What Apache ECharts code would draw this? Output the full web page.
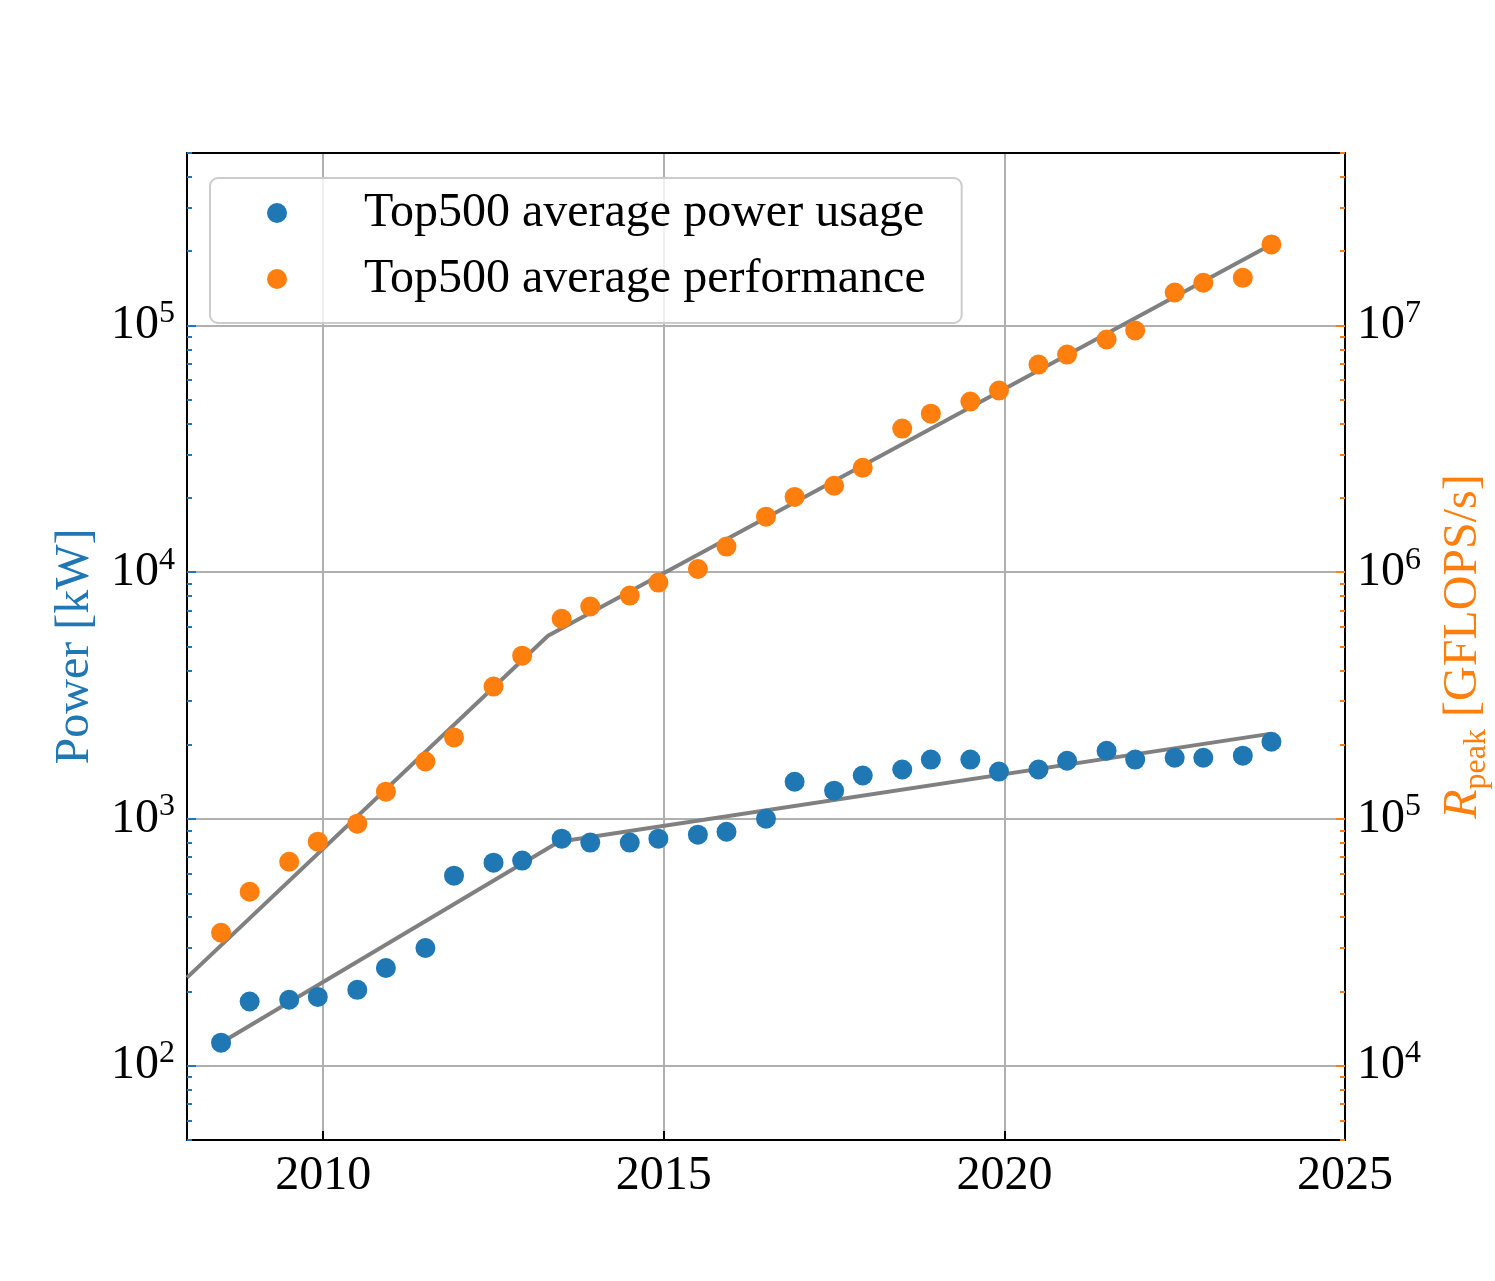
<!DOCTYPE html>
<html><head><meta charset="utf-8">
<script src="https://cdn.jsdelivr.net/npm/echarts@6/dist/echarts.min.js"></script>
<style>html,body{margin:0;padding:0;background:#fff}#c{width:1495px;height:1281px}</style>
</head><body><div id="c"></div>
<script>
// ---- data ----
const dates = [2008.5,2008.92,2009.5,2009.92,2010.5,2010.92,2011.5,2011.92,2012.5,2012.92,
  2013.5,2013.92,2014.5,2014.92,2015.5,2015.92,2016.5,2016.92,2017.5,2017.92,
  2018.5,2018.92,2019.5,2019.92,2020.5,2020.92,2021.5,2021.92,2022.5,2022.92,2023.5,2023.92];
const power = [124,182,185,190,203,249,300,589,665,678,832,802,802,832,864,888,1002,1415,1302,1500,
  1586,1740,1740,1556,1586,1722,1891,1740,1771,1771,1805,2055];
const perf = [34600,50700,67100,80900,95700,129000,171000,214000,344000,459000,648000,726000,804000,908000,
  1030000,1270000,1680000,2020000,2240000,2650000,3820000,4390000,4920000,5450000,6940000,7620000,
  8770000,9540000,13600000,14900000,15600000,21300000];
const powerFit = [[2008.5,124],[2013.46,809],[2023.92,2218]];
const perfFit = [[2008.0,22750],[2013.30,553000],[2023.92,21300000]];
const xTicks = [2010,2015,2020];
const xLabels = [2010,2015,2020,2025];
const leftMajor = [100,1000,10000,100000];
const leftMinor = [50,60,70,80,90,200,300,400,500,600,700,800,900,2000,3000,4000,5000,6000,7000,8000,9000,
  20000,30000,40000,50000,60000,70000,80000,90000,200000,300000,400000,500000];
const rightMajor = [10000,100000,1000000,10000000];
const rightMinor = [5000,6000,7000,8000,9000,20000,30000,40000,50000,60000,70000,80000,90000,
  200000,300000,400000,500000,600000,700000,800000,900000,2000000,3000000,4000000,5000000,6000000,
  7000000,8000000,9000000,20000000,30000000,40000000,50000000];
const legendNames = ['Top500 average power usage','Top500 average performance'];

const BLUE = '#1f77b4', ORANGE = '#ff7f0e', GRID = '#b0b0b0';
const FONT = "'Liberation Serif','DejaVu Serif',serif";
const FS = 48;

const chart = echarts.init(document.getElementById('c'), null, {renderer:'canvas'});
const expLabel = v => '{b|10}{s|' + Math.round(Math.log10(v)) + '}';
const richTick = {
  b:{fontSize:FS, fontFamily:FONT, color:'#000', lineHeight:56},
  s:{fontSize:32, fontFamily:FONT, color:'#000', lineHeight:30, verticalAlign:'top'}
};
function majorY(pos, min, max, tickColor, major, name, nameColor, nameRich){
  return {
    type:'log', logBase:10, position:pos, min:min, max:max,
    axisLine:{show:true, lineStyle:{color:'#000', width:2}},
    axisTick:{show:true, inside:true, length:9, lineStyle:{color:tickColor, width:2}, customValues:major},
    axisLabel:{show:true, margin:12, customValues:major, formatter:expLabel, rich:richTick},
    splitLine:{show:pos==='left', lineStyle:{color:GRID, width:2}},
    minorTick:{show:false}, minorSplitLine:{show:false},
    name:name, nameLocation:'middle', nameRotate:90, nameGap:88,
    nameTextStyle:{color:nameColor, fontFamily:FONT, fontSize:FS, rich:nameRich}
  };
}
function minorY(pos, min, max, tickColor, minor){
  return {
    type:'log', logBase:10, position:pos, min:min, max:max,
    axisLine:{show:false},
    axisTick:{show:true, inside:true, length:5, lineStyle:{color:tickColor, width:2}, customValues:minor},
    axisLabel:{show:false}, splitLine:{show:false}
  };
}
const option = {
  backgroundColor:'#fff',
  animation:false,
  grid:{left:187, right:150, top:153, bottom:141, containLabel:false, outerBoundsMode:'none'},
  legend:{
    data:legendNames, orient:'vertical', left:210, top:178,
    icon:'circle', itemWidth:20, itemHeight:20, itemGap:16,
    padding:[10,36,19,57],
    backgroundColor:'rgba(255,255,255,0.8)', borderColor:'#cccccc', borderWidth:2, borderRadius:8,
    textStyle:{fontFamily:FONT, fontSize:FS, color:'#000', lineHeight:50, padding:[0,0,0,72]}
  },
  xAxis:[{
    type:'value', position:'bottom', min:2008, max:2025,
    axisLine:{show:true, onZero:false, lineStyle:{color:'#000', width:2}},
    axisTick:{show:true, inside:true, length:9, lineStyle:{color:'#000', width:2}, customValues:xTicks},
    axisLabel:{show:true, margin:12, customValues:xLabels, formatter:v => String(v), fontFamily:FONT, fontSize:FS, color:'#000'},
    splitLine:{show:true, lineStyle:{color:GRID, width:2}}
  },{
    type:'value', position:'top', min:2008, max:2025,
    axisLine:{show:true, onZero:false, lineStyle:{color:'#000', width:2}},
    axisTick:{show:false}, axisLabel:{show:false}, splitLine:{show:false}
  }],
  yAxis:[
    majorY('left', 50, 500000, BLUE, leftMajor, 'Power [kW]', BLUE, {}),
    majorY('right', 5000, 50000000, ORANGE, rightMajor, '{it|R}{sub|peak} [GFLOPS/s]', ORANGE, {
      it:{fontStyle:'italic', fontFamily:FONT, fontSize:FS, color:ORANGE, lineHeight:60},
      sub:{fontFamily:FONT, fontSize:32, color:ORANGE, lineHeight:22, verticalAlign:'bottom'}
    }),
    minorY('left', 50, 500000, BLUE, leftMinor),
    minorY('right', 5000, 50000000, ORANGE, rightMinor)
  ],
  series:[
    {type:'line', name:'powerFit', xAxisIndex:0, yAxisIndex:0, data:powerFit, symbol:'none',
      lineStyle:{color:'#808080', width:4}, z:2, silent:true},
    {type:'line', name:'perfFit', xAxisIndex:0, yAxisIndex:1, data:perfFit, symbol:'none',
      lineStyle:{color:'#808080', width:4}, z:2, silent:true},
    {type:'scatter', name:legendNames[0], xAxisIndex:0, yAxisIndex:0, symbolSize:20,
      itemStyle:{color:BLUE, opacity:1}, data:dates.map((d,i)=>[d, power[i]]), z:3},
    {type:'scatter', name:legendNames[1], xAxisIndex:0, yAxisIndex:1, symbolSize:20,
      itemStyle:{color:ORANGE, opacity:1}, data:dates.map((d,i)=>[d, perf[i]]), z:3}
  ]
};
chart.setOption(option);
</script></body></html>
